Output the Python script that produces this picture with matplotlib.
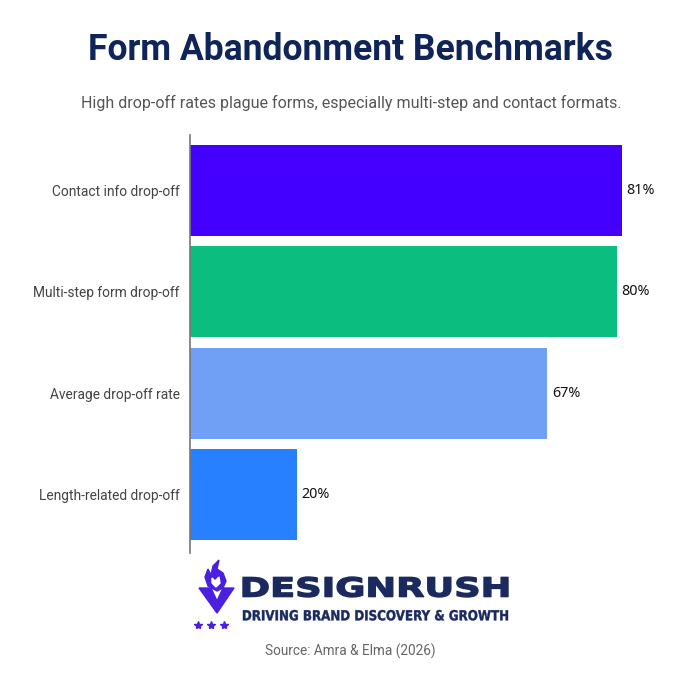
import matplotlib
matplotlib.use("Agg")
import matplotlib.pyplot as plt
from matplotlib.patches import Polygon
from matplotlib.patheffects import AbstractPathEffect
from matplotlib.transforms import Affine2D
import numpy as np

categories = ["Contact info drop-off", "Multi-step form drop-off",
              "Average drop-off rate", "Length-related drop-off"]
values = [81, 80, 67, 20]
value_labels = ["81%", "80%", "67%", "20%"]
colors = ["#4400ff", "#0bbd7f", "#6fa0f5", "#2680ff"]

title = "Form Abandonment Benchmarks"
subtitle = "High drop-off rates plague forms, especially multi-step and contact formats."
source = "Source: Amra & Elma (2026)"
brand = "DESIGNRUSH"
tagline = "DRIVING BRAND DISCOVERY & GROWTH"

W, H = 700, 685


class FitBox(AbstractPathEffect):
    """Stretch the drawn text so it fills a box given in pixel coords (y down)."""

    def __init__(self, x0, x1, ytop, ybot, stroke=0.0):
        super().__init__()
        self.box = (x0, H - ybot, x1, H - ytop)
        self.stroke = stroke

    def draw_path(self, renderer, gc, tpath, affine, rgbFace=None):
        ext = tpath.transformed(affine).get_extents()
        x0, y0, x1, y1 = self.box
        sx = (x1 - x0) / ext.width
        sy = (y1 - y0) / ext.height
        extra = Affine2D().translate(-ext.x0, -ext.y0).scale(sx, sy).translate(x0, y0)
        gc0 = renderer.new_gc()
        gc0.copy_properties(gc)
        if self.stroke > 0:
            gc0.set_linewidth(self.stroke)
            gc0.set_foreground(rgbFace)
        renderer.draw_path(gc0, tpath, affine + extra, rgbFace)
        gc0.restore()


fig = plt.figure(figsize=(W / 100, H / 100), dpi=100)
fig.patch.set_facecolor("white")

ax_left, ax_right = 190, 670
ax_top, ax_bot = 135, 553
ax = fig.add_axes([ax_left / W, 1 - ax_bot / H, (ax_right - ax_left) / W, (ax_bot - ax_top) / H])
y = np.arange(len(categories))
ax.barh(y, values, height=0.9, color=colors)
ax.set_xlim(0, 90)
ax.set_ylim(3.58, -0.55)
for s in ["top", "right", "bottom"]:
    ax.spines[s].set_visible(False)
ax.spines["left"].set_color("#777777")
ax.spines["left"].set_linewidth(1.2)
ax.set_xticks([])
ax.set_yticks(y)
ax.set_yticklabels(categories, fontfamily="Roboto", fontsize=9.9, color="#444444")
ax.tick_params(axis="y", length=0, pad=7.5)
for yi, v, lab in zip(y, values, value_labels):
    ax.text(v + 0.85, yi, lab, va="center", ha="left", fontsize=10.3,
            fontfamily="Noto Sans", color="#111111")

ov = fig.add_axes([0, 0, 1, 1])
ov.set_xlim(0, W)
ov.set_ylim(H, 0)
ov.axis("off")
ov.patch.set_alpha(0)

ov.text(350, 50, title, ha="center", va="center", fontsize=25.6, fontweight="bold",
        fontfamily="Roboto", color="#0f2559")
ov.text(351, 103, subtitle, ha="center", va="center", fontsize=11.5,
        fontfamily="Roboto", color="#555555")

# logo
purple = "#4a1fe0"
navy = "#1b2a5e"
vshape = Polygon([(199, 588), (211, 588), (217, 601), (223, 588), (234, 588), (217, 613)],
                 closed=True, color=purple)
ov.add_patch(vshape)
flame = Polygon([(217, 591), (208, 586), (205, 577), (208, 569), (211, 575), (213, 566),
                 (219, 560), (217, 569), (223, 573), (226, 581), (223, 588)],
                closed=True, color=purple)
ov.add_patch(flame)
swirl = Polygon([(216, 587), (212, 583), (212, 578), (215, 581), (219, 577), (220, 583)],
                closed=True, color="white")
ov.add_patch(swirl)
ov.plot([198, 211, 224], [625, 625, 625], linestyle="none", marker="*", markersize=6, color=purple)

t1 = ov.text(243, 587, brand, ha="left", va="center", fontsize=20, fontweight="bold",
             fontfamily="DejaVu Sans", color=navy)
t1.set_path_effects([FitBox(243, 508, 577, 597, stroke=1.0)])
t2 = ov.text(243, 615, tagline, ha="left", va="center", fontsize=9, fontweight="bold",
             fontfamily="DejaVu Sans", color=navy)
t2.set_path_effects([FitBox(243, 508, 610, 620.5, stroke=0.3)])

ov.text(350, 651, source, ha="center", va="center", fontsize=9.8,
        fontfamily="Roboto", color="#666666")

fig.savefig("out.png", dpi=100, facecolor="white")
